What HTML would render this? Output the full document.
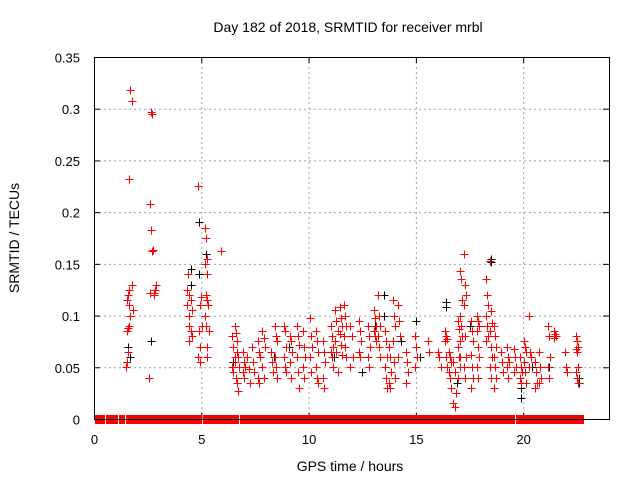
<!DOCTYPE html>
<html><head><meta charset="utf-8"><style>
body{margin:0;background:#fff}
svg{display:block;font-family:"Liberation Sans",sans-serif}
</style></head><body>
<svg id="c" width="640" height="480"></svg>
<script>
const xTicks=[0,5,10,15,20];
const yTicks=[0,0.05,0.1,0.15,0.2,0.25,0.3,0.35];
const yTickLabels=["0","0.05","0.1","0.15","0.2","0.25","0.3","0.35"];
const redClusters=[
[1.55,[.05,.055,.065]],[1.6,[.085,.088,.11,.115,.12,.125]],[1.7,[.09,.1,.13,.232]],[1.75,[.318,.307]],[1.85,[.105]],
[2.6,[.04,.122]],[2.65,[.208,.183,.162]],[2.7,[.297,.295,.163]],[2.85,[.12,.125,.13,.122]],
[4.4,[.125,.14,.1,.11]],[4.5,[.09,.085,.08,.075,.115,.105,.12]],[4.9,[.225,.085,.055,.06]],[5.0,[.11,.118,.09,.07]],
[5.2,[.185,.175,.155,.15,.12,.115,.1,.09,.06]],[5.3,[.14,.11,.085,.07]],[5.95,[.162]],
[6.5,[.08,.07,.06,.05,.045]],[6.6,[.09,.083,.065,.055,.04]],[6.7,[.075,.06,.05,.035,.027]],[7.0,[.065,.055,.05,.045,.04]],
[7.2,[.06,.048,.035]],[7.4,[.07,.055,.045]],[7.7,[.075,.065,.06,.04,.035]],[7.9,[.085,.078,.07,.05,.04]],
[8.3,[.065,.055,.045]],[8.5,[.09,.08,.075,.06,.05,.04]],[8.9,[.09,.085,.07,.06,.05,.045]],[9.2,[.08,.075,.065,.055,.04]],
[9.5,[.09,.08,.072,.06,.045,.03]],[9.8,[.085,.07,.06,.05,.04]],[10.1,[.098,.08,.07,.06,.045]],[10.4,[.085,.075,.065,.05,.04,.035]],
[10.7,[.075,.065,.055,.04,.03]],[11.1,[.09,.08,.07,.065,.06,.05]],[11.3,[.105,.095,.085,.075,.065,.045]],
[11.5,[.108,.098,.09,.082,.072,.062]],[11.7,[.11,.1,.09,.08,.07,.06]],[12.0,[.09,.08,.06,.05]],
[12.4,[.095,.085,.075,.065,.06]],[12.8,[.09,.08,.07,.06,.05]],[13.1,[.105,.098,.09,.085,.08,.075]],
[13.3,[.12,.1,.09,.08,.07,.06]],[13.6,[.085,.075,.06,.05,.04,.03]],[13.8,[.07,.06,.045,.035,.03]],
[14.0,[.115,.1,.09,.075,.055,.04]],[14.2,[.11,.095,.08,.06]],[14.6,[.065,.055,.045,.035]],[15.0,[.08,.07,.06,.05]],
[15.6,[.075,.065]],[16.1,[.065,.06,.05]],[16.4,[.085,.08,.077,.075,.06,.05]],[16.6,[.065,.06,.055,.045,.04,.03]],
[16.8,[.055,.045,.025,.015,.012]],[17.0,[.095,.087,.075,.07,.06,.05,.04]],[17.1,[.143,.135,.115,.1,.09,.08,.06]],
[17.3,[.16,.13,.12,.11,.08,.06,.05,.04]],[17.6,[.095,.085,.075,.062,.05,.04,.03]],[17.9,[.1,.095,.09,.085,.07,.06,.05,.04]],
[18.3,[.135,.12,.11,.1,.09,.08,.075]],[18.5,[.153,.104,.093,.085,.07,.06,.05,.04]],[18.7,[.09,.08,.07,.06,.05,.04,.03]],
[19.0,[.065,.055,.045]],[19.3,[.07,.06,.055,.05,.04]],[19.6,[.068,.06,.05,.045]],[19.9,[.06,.05,.045,.04,.035]],
[20.1,[.075,.07,.065,.055,.045,.035]],[20.3,[.1,.065,.06,.05]],[20.6,[.055,.045,.035,.03]],[20.8,[.065,.05,.04,.035]],
[21.2,[.09,.08,.06,.05,.04]],[21.5,[.085,.082,.08,.078]],[22.0,[.065,.05,.045]],
[22.5,[.08,.075,.07,.068,.065,.05,.045,.04,.035]]];
const blackTimes=[1.6,1.7,2.65,4.5,4.5,4.9,4.9,5.2,5.2,6.5,8.4,9.1,11.2,12.5,13.1,13.5,13.5,14.3,15.0,15.2,16.4,16.4,16.9,17.5,18.5,18.5,19.3,19.9,19.9,20.4,21.2,22.6,22.6];
const blackValues=[.07,.06,.075,.145,.13,.19,.14,.09,.16,.055,.06,.07,.06,.045,.09,.12,.1,.075,.095,.06,.113,.108,.035,.09,.155,.152,.06,.03,.02,.05,.05,.035,.04];
const zeroSegments=[[0.0,0.35],[0.5,1.0],[1.1,1.3],[1.45,1.9],[2.0,2.6],[2.7,3.3],[3.4,4.0],[4.1,4.9],[5.05,5.3],[5.4,6.1],[6.2,6.6],[6.75,7.4],[7.5,8.2],[8.3,8.9],[9.0,9.4],[9.5,10.3],[10.4,11.0],[11.1,11.6],[11.7,12.4],[12.5,13.1],[13.2,13.8],[13.9,14.5],[14.6,15.1],[15.2,15.8],[15.9,16.6],[16.7,17.1],[17.2,17.9],[18.0,18.7],[18.8,19.5],[19.6,20.4],[20.5,21.1],[21.2,21.7],[21.8,22.3],[22.4,22.7]];

const L=94,R=609,T=57,B=419,X0=0,X1=24,Y0=0,Y1=0.35;
const sx=v=>L+(v-X0)/(X1-X0)*(R-L);
const sy=v=>B-(v-Y0)/(Y1-Y0)*(B-T);
const svg=document.getElementById('c');
const NS='http://www.w3.org/2000/svg';
function mk(tag,attrs,parent){const e=document.createElementNS(NS,tag);for(const k in attrs)e.setAttribute(k,attrs[k]);(parent||svg).appendChild(e);return e;}

const grid=mk('g',{stroke:'#a0a0a0','stroke-dasharray':'2,3','stroke-width':1});


xTicks.forEach(t=>{if(t>0)mk('line',{x1:sx(t)+.5,x2:sx(t)+.5,y1:T,y2:B},grid);});
yTicks.forEach(t=>{if(t>0&&t<Y1)mk('line',{x1:L,x2:R,y1:sy(t)+.5,y2:sy(t)+.5},grid);});

const ax=mk('g',{stroke:'#000','stroke-width':1});


xTicks.forEach(t=>{const x=sx(t)+.5;mk('line',{x1:x,x2:x,y1:B,y2:B-6},ax);mk('line',{x1:x,x2:x,y1:T,y2:T+6},ax);
 const tx=mk('text',{x:x,y:B+25,'text-anchor':'middle','font-size':13,fill:'#000',stroke:'none'});tx.textContent=t;
 
 });
yTicks.forEach((t,i)=>{const y=sy(t)+.5;mk('line',{x1:L,x2:L+6,y1:y,y2:y},ax);mk('line',{x1:R,x2:R-6,y1:y,y2:y},ax);
 const tx=mk('text',{x:L-14,y:y+5,'text-anchor':'end','font-size':13,fill:'#000',stroke:'none'});tx.textContent=yTickLabels[i];
 
 });

function plus(g,t,v,col){const x=Math.round(sx(t))+.5,y=Math.round(sy(v))+.5;mk('path',{d:`M${x-4},${y}h8M${x},${y-4}v8`,stroke:col,fill:'none'},g);}

const bs=mk('g',{'stroke-width':1});


blackTimes.forEach((t,i)=>plus(bs,t,blackValues[i],'#000'));

const rs=mk('g',{'stroke-width':1});


redClusters.forEach(([t,vals])=>vals.forEach((v,j)=>plus(rs,t+(j%3-1)*0.05,v,'#f00')));
zeroSegments.forEach(([a,b])=>{const x0=Math.round(sx(a))+1,x1=Math.round(sx(b))+3;mk('rect',{x:x0,y:sy(0)-4,width:Math.max(3,x1-x0),height:9,fill:'#f00',stroke:'none'},rs);});

const fr=mk('rect',{x:L+.5,y:T+.5,width:R-L,height:B-T,fill:'none',stroke:'#000','stroke-width':1});


const base=mk('line',{x1:L,x2:R,y1:B+.5,y2:B+.5,stroke:'#000','stroke-width':1});



const ti=mk('text',{x:348,y:32,'text-anchor':'middle','font-size':14,fill:'#000'});ti.textContent='Day 182 of 2018, SRMTID for receiver mrbl';


const xl=mk('text',{x:350,y:471,'text-anchor':'middle','font-size':14,fill:'#000'});xl.textContent='GPS time / hours';


const yl=mk('text',{x:0,y:0,'text-anchor':'middle','font-size':14,fill:'#000',transform:'translate(19,238) rotate(-90)'});yl.textContent='SRMTID / TECUs';


</script>
</body></html>
